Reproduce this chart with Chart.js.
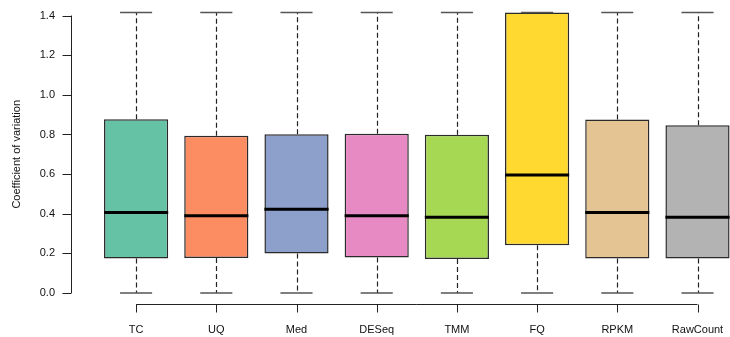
<!DOCTYPE html>
<html>
<head>
<meta charset="utf-8">
<script src="https://cdn.jsdelivr.net/npm/chart.js@4/dist/chart.umd.min.js"></script>
<style>
  html, body { margin: 0; padding: 0; background: #fff; overflow: hidden; }
  #wrap { width: 730px; height: 337px; overflow: hidden; }
  #box { width: 745px; height: 337px; }
</style>
</head>
<body>
<div id="wrap"><div id="box"><canvas id="cvChart"></canvas></div></div>
<script>
const categories = ['TC', 'UQ', 'Med', 'DESeq', 'TMM', 'FQ', 'RPKM', 'RawCount'];
const q1Values     = [0.174, 0.177, 0.199, 0.179, 0.172, 0.241, 0.174, 0.174];
const medianValues = [0.406, 0.390, 0.423, 0.390, 0.383, 0.596, 0.406, 0.383];
const q3Values     = [0.877, 0.793, 0.801, 0.804, 0.799, 1.415, 0.875, 0.846];
const whiskerLow   = [0, 0, 0, 0, 0, 0, 0, 0];
const whiskerHigh  = [1.415, 1.415, 1.415, 1.415, 1.415, 1.415, 1.415, 1.415];
const yTickValues  = [0, 0.2, 0.4, 0.6, 0.8, 1.0, 1.2, 1.4];
const boxColors = ['#66C2A5', '#FC8D62', '#8DA0CB', '#E78AC3', '#A6D854', '#FFD92F', '#E5C494', '#B3B3B3'];

const FONT = 'Liberation Sans, Arial, sans-serif';

// whiskers, caps, medians and the R-style axes, all placed via the chart scales
const boxExtras = {
  id: 'boxExtras',
  afterDatasetsDraw(chart) {
    const ctx = chart.ctx;
    const xs = chart.scales.x;
    const ys = chart.scales.y;
    const meta = chart.getDatasetMeta(0);
    ctx.save();
    categories.forEach((c, i) => {
      const bar = meta.data[i];
      const cx = xs.getPixelForValue(i);
      const half = bar.width / 2;
      const yLo = ys.getPixelForValue(whiskerLow[i]);
      const yHi = ys.getPixelForValue(whiskerHigh[i]);
      const yQ1 = ys.getPixelForValue(q1Values[i]);
      const yQ3 = ys.getPixelForValue(q3Values[i]);
      // dashed whiskers
      ctx.strokeStyle = '#222';
      ctx.lineWidth = 1.2;
      ctx.setLineDash([5, 3]);
      ctx.beginPath();
      ctx.moveTo(Math.round(cx) + 0.5, yQ1);
      ctx.lineTo(Math.round(cx) + 0.5, yLo);
      ctx.moveTo(Math.round(cx) + 0.5, yQ3);
      ctx.lineTo(Math.round(cx) + 0.5, yHi);
      ctx.stroke();
      ctx.setLineDash([]);
      // caps
      ctx.strokeStyle = '#555';
      ctx.lineWidth = 1.6;
      ctx.beginPath();
      ctx.moveTo(cx - half / 2, yLo);
      ctx.lineTo(cx + half / 2, yLo);
      ctx.moveTo(cx - half / 2, yHi);
      ctx.lineTo(cx + half / 2, yHi);
      ctx.stroke();
      // median
      const yMed = ys.getPixelForValue(medianValues[i]);
      ctx.strokeStyle = '#000';
      ctx.lineWidth = 3;
      ctx.beginPath();
      ctx.moveTo(cx - half, yMed);
      ctx.lineTo(cx + half, yMed);
      ctx.stroke();
    });

    // x axis (R style)
    const axY = chart.chartArea.bottom + 5.5;
    const x0 = xs.getPixelForValue(0);
    const x1 = xs.getPixelForValue(categories.length - 1);
    ctx.strokeStyle = '#222';
    ctx.lineWidth = 1;
    ctx.beginPath();
    ctx.moveTo(x0, axY);
    ctx.lineTo(x1, axY);
    categories.forEach((c, i) => {
      const px = Math.round(xs.getPixelForValue(i)) + 0.5;
      ctx.moveTo(px, axY);
      ctx.lineTo(px, axY + 8);
    });
    ctx.stroke();

    // y axis (R style)
    const axX = chart.chartArea.left - 24.5;
    ctx.beginPath();
    ctx.moveTo(axX, ys.getPixelForValue(yTickValues[0]));
    ctx.lineTo(axX, ys.getPixelForValue(yTickValues[yTickValues.length - 1]));
    yTickValues.forEach(v => {
      const py = Math.round(ys.getPixelForValue(v)) + 0.5;
      ctx.moveTo(axX, py);
      ctx.lineTo(axX - 9, py);
    });
    ctx.stroke();
    ctx.restore();
  }
};

new Chart(document.getElementById('cvChart'), {
  type: 'bar',
  data: {
    labels: categories,
    datasets: [{
      data: categories.map((c, i) => [q1Values[i], q3Values[i]]),
      backgroundColor: boxColors,
      borderColor: '#2a2a2a',
      borderWidth: 1.5,
      borderSkipped: false,
      barPercentage: 0.8,
      categoryPercentage: 1.0
    }]
  },
  options: {
    responsive: true,
    maintainAspectRatio: false,
    animation: false,
    layout: { padding: { left: 0, right: 7.4, top: 8, bottom: 0 } },
    plugins: { legend: { display: false }, tooltip: { enabled: false } },
    scales: {
      x: {
        offset: true,
        grid: { display: false, drawTicks: true, tickLength: 21 },
        border: { display: false },
        ticks: { color: '#111', font: { family: FONT, size: 11 }, padding: 3, maxRotation: 0, autoSkip: false },
        afterFit(scale) { scale.height = 38; }
      },
      y: {
        min: -0.03,
        max: 1.43,
        grid: { display: false, drawTicks: true, tickLength: 38 },
        border: { display: false },
        ticks: {
          stepSize: 0.2,
          includeBounds: false,
          color: '#111',
          font: { family: FONT, size: 11 },
          padding: 3,
          callback: v => v.toFixed(1)
        },
        title: {
          display: true,
          text: 'Coefficient of variation',
          color: '#111',
          font: { family: FONT, size: 11 },
          padding: { top: 10, bottom: 0 }
        },
        afterFit(scale) { scale.width = 96; }
      }
    }
  },
  plugins: [boxExtras]
});
</script>
</body>
</html>
